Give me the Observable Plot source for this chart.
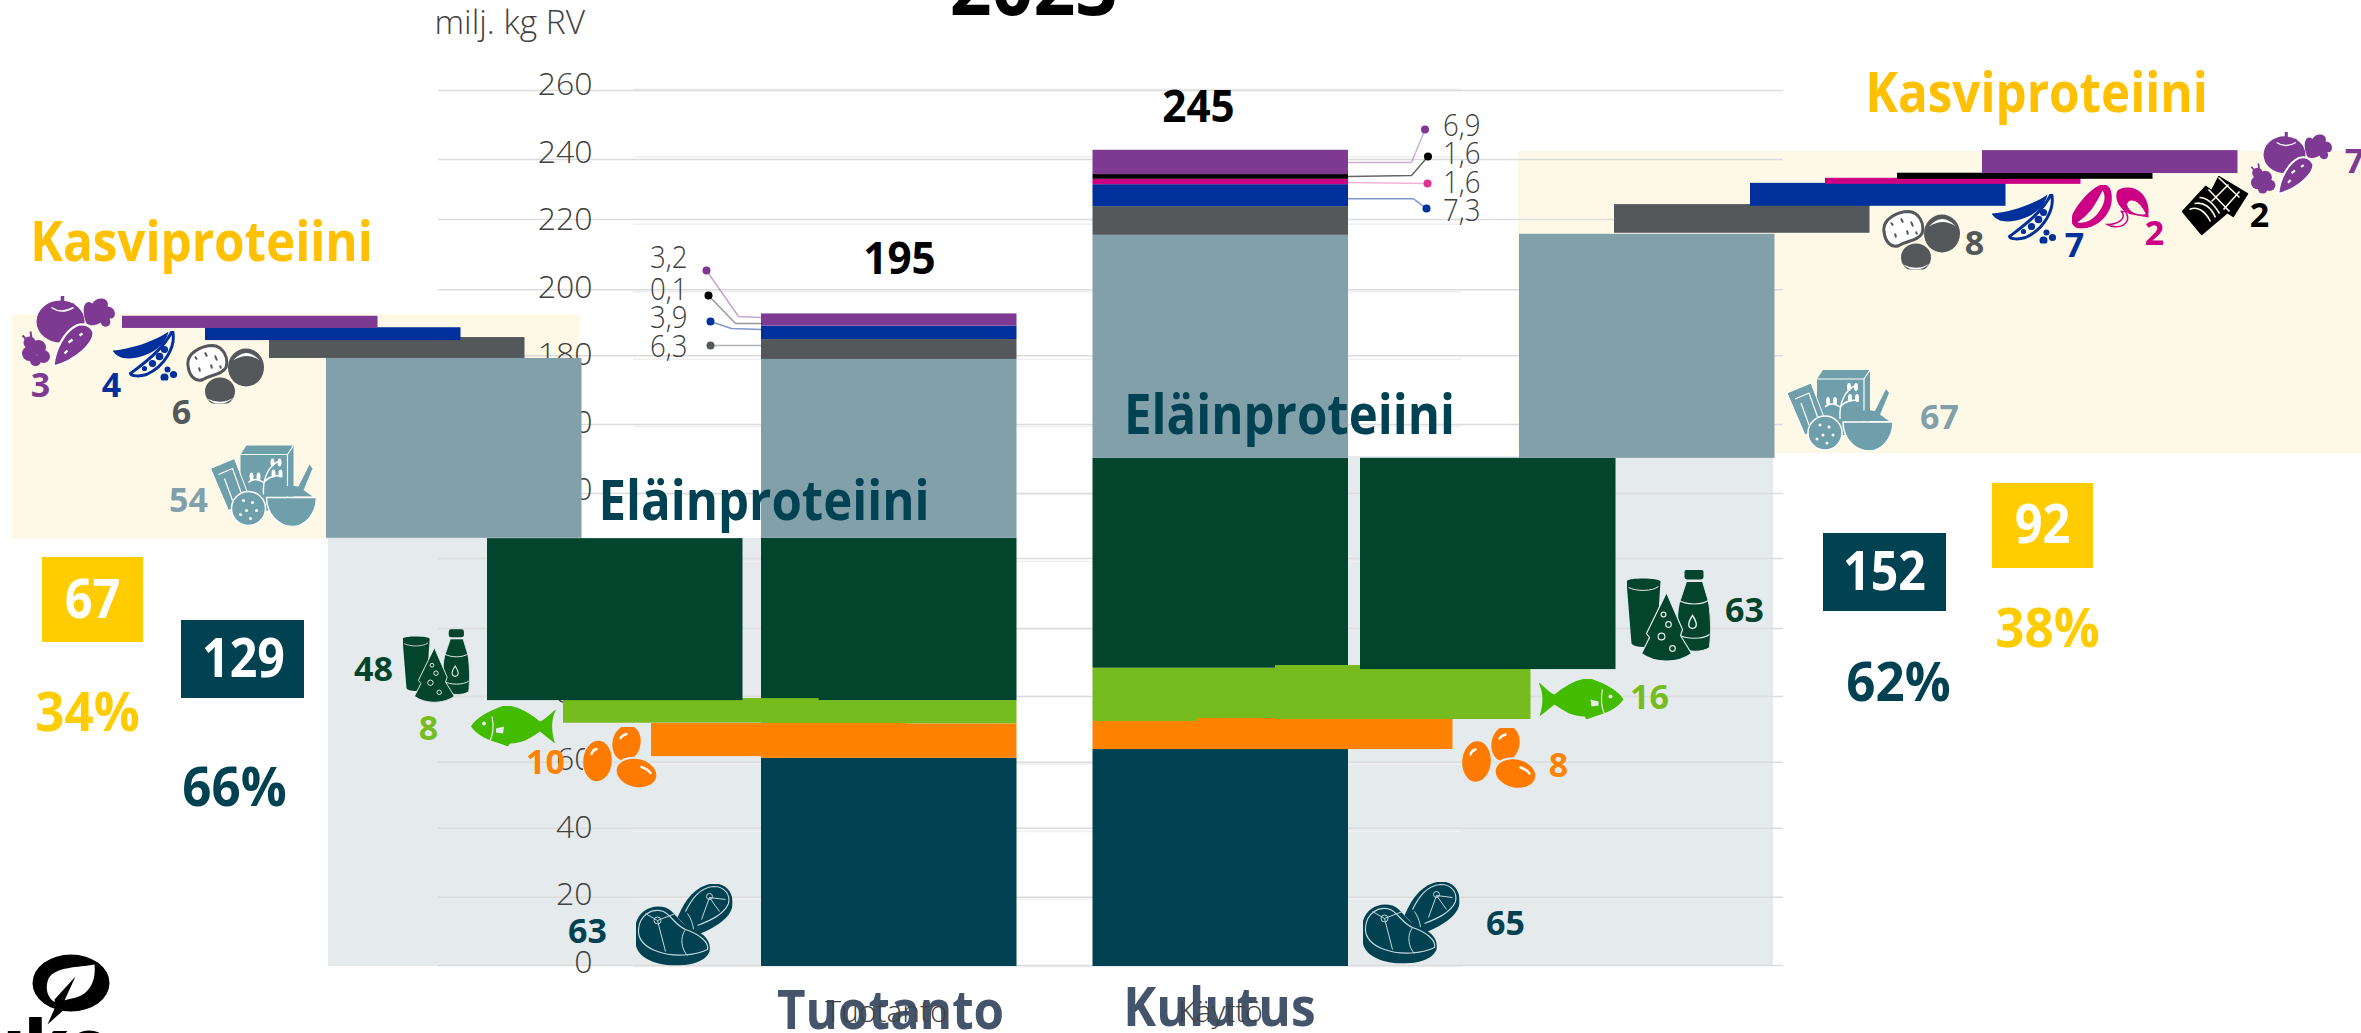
<!DOCTYPE html>
<html lang="fi">
<head>
<meta charset="utf-8">
<title>Proteiinitase 2023</title>
<script src="https://cdn.jsdelivr.net/npm/d3@7"></script>
<script src="https://cdn.jsdelivr.net/npm/@observablehq/plot@0.6"></script>
<style>
html,body{margin:0;padding:0;background:#fff;overflow:hidden}
svg{display:block}
</style>
</head>
<body>
<div id="chart"></div>
<script>
// ---------- DATA (milj. kg RV) ----------
const categories = ["Liha","Kananmuna","Kala","Maito","Viljat","Peruna","Palkokasvit","Pähkinät","Kaakao","Kasvikset"];
const tuotantoValues = [61.7,10.2,6.9,48.1,53.0,5.9,4.0,0,0,3.6];
const kulutusValues  = [64.3,8.3,15.8,62.2,66.1,8.5,6.5,1.6,1.4,7.2];
// pulled-out segments: bottom and height on the axis
const tuotantoOutCats  = ["Kananmuna","Kala","Maito","Viljat","Peruna","Palkokasvit","Kasvikset"];
const tuotantoOutBase  = [62.2,72.1,78.8,126.9,180.2,185.5,189.1];
const tuotantoOutValue = [9.8,7.3,48.0,53.3,6.2,3.8,3.6];
const kulutusOutCats   = ["Kananmuna","Kala","Maito","Viljat","Peruna","Palkokasvit","Pähkinät","Kaakao","Kasvikset"];
const kulutusOutBase   = [64.3,73.2,88.0,150.6,217.3,225.3,231.8,233.3,235.0];
const kulutusOutValue  = [9.2,16.0,62.6,66.4,8.5,6.8,1.8,1.8,6.8];
const axisTicks = [0,20,40,60,80,100,120,140,160,180,200,220,240,260];
const gridReadA = [0.3,20.5,41,60.5,80,100.2,120.9,140.2,160.6,181,200.6,221.4,239.2,259.6];
const totals = ["195","245"];
const tuotantoLabels = ["63","10","8","48","54","6","4","3"];
const kulutusLabels  = ["65","8","16","63","67","8","7","2","2","7"];
const tuotantoCallouts = ["3,2","0,1","3,9","6,3"];
const kulutusCallouts  = ["6,9","1,6","1,6","7,3"];
const sumAnimal = ["129","152"], sumPlant = ["67","92"];
const pctAnimal = ["66%","62%"], pctPlant = ["34%","38%"];

// ---------- LAYOUT & STYLE ----------
const colors = {Liha:"#004152",Kananmuna:"#ff8200",Kala:"#77bc1f",Maito:"#03442c",Viljat:"#82a0aa",Peruna:"#54585a",Palkokasvit:"#00309b","Pähkinät":"#cc0084",Kaakao:"#000000",Kasvikset:"#7e3a93"};
const W = 2361, H = 1033, Y0 = 966, Y260 = 88.7;
const yAt = px => (Y0 - px) * 260 / (Y0 - Y260);   // screen row -> axis value, for annotations
const FONT = "'Open Sans','Noto Sans',sans-serif";
const BAR_W = 255.5;
const colTuotanto = 761, colKulutus = 1092.5;
const tuotantoOutX = [651,563,487,326,269,205,122];
const kulutusOutX  = [1197,1275,1360,1519,1614,1750,1825,1897,1982];

function stacked(values, left) {
  let base = 0;
  return categories.map((c,i)=>{const r={c,x1:left,x2:left+BAR_W,y1:base,y2:base+values[i]};base+=values[i];return r;}).filter(r=>r.y2>r.y1);
}
function pulled(cats,bases,vals,xs){
  return cats.map((c,i)=>({c,x1:xs[i],x2:xs[i]+BAR_W,y1:bases[i],y2:bases[i]+vals[i]}));
}
const bars = [...stacked(tuotantoValues,colTuotanto),...stacked(kulutusValues,colKulutus),
  ...pulled(tuotantoOutCats,tuotantoOutBase,tuotantoOutValue,tuotantoOutX),
  ...pulled(kulutusOutCats,kulutusOutBase,kulutusOutValue,kulutusOutX)];

const panels = [
  {x1:12,x2:580,y1:yAt(539),y2:yAt(314),f:"#fef9e7"},
  {x1:1518,x2:W,y1:yAt(453),y2:yAt(151),f:"#fef9e7"},
  {x1:328,x2:761,y1:0,y2:yAt(538),f:"#e5eaed"},
  {x1:1348,x2:1773,y1:0,y2:yAt(456),f:"#e5eaed"}
];
const boxes = [
  {x1:42,x2:143,y1:yAt(642),y2:yAt(557),f:"#ffcc00"},
  {x1:181,x2:304,y1:yAt(698),y2:yAt(620),f:"#004152"},
  {x1:1992,x2:2093,y1:yAt(568),y2:yAt(483),f:"#ffcc00"},
  {x1:1823,x2:1946,y1:yAt(611),y2:yAt(533),f:"#004152"}
];

const seg = (t,x,r,c)=>({t,x,y:yAt(r),c,s:34});
const valueLabels = [
  seg(tuotantoLabels[0],587,932,colors.Liha),seg(tuotantoLabels[1],545,763,colors.Kananmuna),
  seg(tuotantoLabels[2],428,729,colors.Kala),seg(tuotantoLabels[3],373,670,colors.Maito),
  seg(tuotantoLabels[4],188,501,colors.Viljat),seg(tuotantoLabels[5],181,413,colors.Peruna),
  seg(tuotantoLabels[6],111,386,colors.Palkokasvit),seg(tuotantoLabels[7],40,386,colors.Kasvikset),
  seg(kulutusLabels[0],1505,924,colors.Liha),seg(kulutusLabels[1],1558,766,colors.Kananmuna),
  seg(kulutusLabels[2],1649,698,colors.Kala),seg(kulutusLabels[3],1744,611,colors.Maito),
  seg(kulutusLabels[4],1939,418,colors.Viljat),seg(kulutusLabels[5],1974,244,colors.Peruna),
  seg(kulutusLabels[6],2074,246,colors.Palkokasvit),seg(kulutusLabels[7],2154,234,colors["Pähkinät"]),
  seg(kulutusLabels[8],2259,216,colors.Kaakao),seg(kulutusLabels[9],2354,162,colors.Kasvikset)
];
// k = horizontal squeeze of the glyphs
const bigLabels = [
  {t:"2023",x:1033,y:yAt(-10),c:"#000",s:78,k:.94},
  {t:totals[0],x:899,y:yAt(259),c:"#000",s:44,k:.96},
  {t:totals[1],x:1198,y:yAt(107),c:"#000",s:44,k:.96},
  {t:"Kasviproteiini",x:201,y:yAt(243),c:"#ffc000",s:55,k:.897},
  {t:"Kasviproteiini",x:2036,y:yAt(94),c:"#ffc000",s:55,k:.897},
  {t:"Eläinproteiini",x:763.5,y:yAt(502),c:"#004152",s:55,k:.894},
  {t:"Eläinproteiini",x:1289,y:yAt(416),c:"#004152",s:55,k:.894},
  {t:"Tuotanto",x:890,y:yAt(1011),c:"#44546a",s:54,k:.914},
  {t:"Kulutus",x:1219,y:yAt(1008),c:"#44546a",s:54,k:.92},
  {t:sumPlant[0],x:92,y:yAt(600),c:"#fff",s:54,k:.9},
  {t:sumAnimal[0],x:243,y:yAt(659),c:"#fff",s:54,k:.895},
  {t:sumPlant[1],x:2042,y:yAt(525),c:"#fff",s:54,k:.9},
  {t:sumAnimal[1],x:1884,y:yAt(572),c:"#fff",s:54,k:.895},
  {t:pctPlant[0],x:87,y:yAt(713),c:"#ffcc00",s:54,k:.945},
  {t:pctAnimal[0],x:234,y:yAt(788),c:"#004152",s:54,k:.945},
  {t:pctPlant[1],x:2047,y:yAt(629),c:"#ffcc00",s:54,k:.945},
  {t:pctAnimal[1],x:1898,y:yAt(683),c:"#004152",s:54,k:.945}
];
const calloutText = [
  {t:tuotantoCallouts[0],x:687,y:yAt(258)},{t:tuotantoCallouts[1],x:687,y:yAt(290)},
  {t:tuotantoCallouts[2],x:687,y:yAt(318)},{t:tuotantoCallouts[3],x:687,y:yAt(347)},
  {t:kulutusCallouts[0],x:1480,y:yAt(126)},{t:kulutusCallouts[1],x:1480,y:yAt(154)},
  {t:kulutusCallouts[2],x:1480,y:yAt(183)},{t:kulutusCallouts[3],x:1480,y:yAt(211)}
];
const leaderPts = (id,c,o,pts)=>pts.map(p=>({id,c,o,x:p[0],y:yAt(p[1])}));
const leaders = [
  ...leaderPts("a",colors.Kasvikset,.45,[[706,270],[738,316],[761,317]]),
  ...leaderPts("b","#000",.4,[[708,295],[735,323],[761,323]]),
  ...leaderPts("c",colors.Palkokasvit,.5,[[710,321],[731,328],[761,329]]),
  ...leaderPts("d",colors.Peruna,.45,[[710,345],[761,345]]),
  ...leaderPts("e",colors.Kasvikset,.4,[[1424.5,129],[1411,162],[1348,162]]),
  ...leaderPts("f","#000",.6,[[1427.5,156],[1411,175],[1348,176]]),
  ...leaderPts("g",colors["Pähkinät"],.3,[[1427,183],[1348,182]]),
  ...leaderPts("h",colors.Palkokasvit,.5,[[1426,208],[1413,198.3],[1348,198.3]])
];
const leaderDots = d3.groups(leaders,d=>d.id).map(([,v])=>v[0]);
const dotColors = ["#7e3a93","#000","#00309b","#54585a","#7e3a93","#000","#e0348f","#00309b"];
leaderDots.forEach((d,i)=>d.f=dotColors[i]);

// ---------- ICONS ----------
const svgUri = (w,h,body)=>"data:image/svg+xml,"+encodeURIComponent(`<svg xmlns="http://www.w3.org/2000/svg" viewBox="0 0 ${w} ${h}" width="${w}" height="${h}">${body}</svg>`);
const vegBody = c=>`<g fill="${c}">
<ellipse cx="40" cy="26" rx="24" ry="21"/><path d="M42 0v9M30 9q11 8 24 0" stroke="${c}" stroke-width="3.5" fill="none"/>
<path d="M31 12q10 7 22 0" stroke="#fff" stroke-width="1.5" fill="none"/>
<path d="M33 71C34 54 44 36 56 30C64 27 71 31 73 37C74 47 56 65 33 71Z" stroke="#fff" stroke-width="2.2"/>
<path d="M66 28C60 14 64 2 72 8C76 0 90 2 87 11C96 11 97 24 89 23C93 32 82 34 80 27C76 30 70 31 66 28Z"/>
<circle cx="9" cy="47" r="6"/><circle cx="18" cy="52" r="7.5"/><circle cx="9" cy="58" r="7.5"/><circle cx="23" cy="61" r="6.5"/><circle cx="15" cy="65" r="5.5"/><path d="M2 40l5 5M10 36l1 7" stroke="${c}" stroke-width="2"/>
</g><path d="M48 47l4 -3M59 40l3 -2M44 58l3 -3" stroke="#fff" stroke-width="2.4"/>`;
const podBody = (c,f)=>`<path d="M0 20C18 19 44 10 56 1C53 16 36 27 16 28C8 28 3 25 0 20Z" fill="${c}"/>
<path d="M60 0C64 16 52 36 34 44C28 46 19 46 18 43C30 34 50 20 60 0Z" fill="${f}" stroke="${c}" stroke-width="3"/>
<g fill="${c}"><circle cx="52" cy="19" r="3.6"/><circle cx="47" cy="26" r="3.8"/><circle cx="40" cy="33" r="3.6"/><circle cx="32" cy="38" r="2.6"/><circle cx="52" cy="47" r="4"/><circle cx="61" cy="44" r="3.6"/><circle cx="55" cy="39" r="3"/></g>`;
const potatoBody = c=>`<path d="M3 22C1 10 16 2 28 2C38 3 44 14 41 24C36 32 28 30 18 36C10 39 4 32 3 22Z" fill="#fff" stroke="${c}" stroke-width="3"/>
<path d="M10 13l2 3M20 9l2 4M30 12l2 5M14 24l1 4M26 21l1 4M35 22l1 3" stroke="${c}" stroke-width="2"/>
<ellipse cx="61" cy="24" rx="18" ry="19" fill="${c}"/><path d="M48 17Q61 2 75 17Q62 8 48 17Z" fill="#fff"/>
<ellipse cx="35" cy="48" rx="15" ry="14" fill="${c}"/><path d="M22 55Q35 66 49 54Q36 62 22 55Z" fill="#fff"/>`;
const cerealBody = c=>`<path d="M32 12L38 3H85V58L79 68H32Z" fill="${c}"/><path d="M79 12V68M32 12H79L85 3" stroke="#fff" stroke-width="1.2" fill="none"/>
<path d="M55 52C54 36 60 22 72 18M55 40C60 34 68 32 74 34M55 40C50 36 44 36 40 40" stroke="#fff" stroke-width="1.4" fill="none"/>
<g fill="#fff"><ellipse cx="64" cy="20" rx="2" ry="4"/><ellipse cx="71" cy="20" rx="2" ry="4"/><ellipse cx="65" cy="31" rx="2" ry="4"/><ellipse cx="72" cy="31" rx="2" ry="4"/><ellipse cx="43" cy="34" rx="2" ry="4"/><ellipse cx="50" cy="34" rx="2" ry="4"/></g>
<path d="M2 26L26 16L42 58L20 68Z" fill="${c}" stroke="#fff" stroke-width="1"/><path d="M10 32L24 26L34 54M16 36L24 58" stroke="#fff" stroke-width="1.2" fill="none"/>
<circle cx="40" cy="66" r="17" fill="${c}" stroke="#fff" stroke-width="1.5"/><g fill="#fff"><circle cx="35" cy="58" r="1.5"/><circle cx="44" cy="60" r="1.5"/><circle cx="38" cy="68" r="1.5"/><circle cx="48" cy="68" r="1.5"/><circle cx="32" cy="72" r="1.5"/><circle cx="42" cy="76" r="1.5"/></g>
<path d="M60 54C62 44 80 42 90 44L104 54Z" fill="${c}"/><path d="M88 48L101 22L104 26L94 50Z" fill="${c}"/>
<path d="M58 55H108C108 72 96 84 84 84C70 84 58 72 58 55Z" fill="${c}" stroke="#fff" stroke-width="1.5"/>`;
const dairyBody = (c,bg)=>`<path d="M0 12C0 8 33 8 34 12L30 74C20 79 8 78 5 74Z" fill="${c}"/><path d="M2 18C10 22 26 22 32 17" stroke="${bg}" stroke-width="1" fill="none"/>
<rect x="58" y="0" width="19" height="10" rx="3" fill="${c}"/><path d="M60 12H76L82 32C85 50 84 70 83 78C76 83 62 83 55 78C50 60 50 40 54 30Z" fill="${c}" stroke="${bg}" stroke-width="1"/>
<path d="M51 30C60 36 76 36 83 30M51 65C60 70 76 70 83 65" stroke="${bg}" stroke-width="1.2" fill="none"/><path d="M66 46C70 52 72 58 66 59C60 58 62 52 66 46Z" fill="none" stroke="${bg}" stroke-width="1.4"/>
<path d="M40 23L56 60L54 66L65 84C52 94 28 94 15 84L23 68L20 64Z" fill="${c}" stroke="${bg}" stroke-width="1.2"/>
<g fill="none" stroke="${bg}" stroke-width="1.2"><circle cx="37" cy="45" r="2.4"/><circle cx="42" cy="55" r="2.8"/><circle cx="35" cy="67" r="3.4"/><circle cx="46" cy="79" r="2.8"/></g>`;
const fishBody = c=>`<path d="M0 4C4 6 10 14 16 16C28 6 42 -1 52 0C66 5 80 12 85 21C78 31 66 35 56 38L48 41L46 38C34 38 26 33 16 26L1 38C4 28 6 16 0 4Z" fill="${c}"/>
<circle cx="72" cy="18" r="2" fill="#e5eaed"/><path d="M64 11C62 20 63 30 66 35" stroke="#e5eaed" stroke-width="1.2" fill="none"/><path d="M52 21L60 23L60 27L53 28Z" fill="#e5eaed"/>`;
const eggBody = c=>`<ellipse cx="44" cy="16" rx="14" ry="18" transform="rotate(12 44 16)" fill="${c}"/>
<ellipse cx="15" cy="34" rx="15" ry="21" transform="rotate(4 15 34)" fill="${c}" stroke="#e5eaed" stroke-width="1.5"/>
<ellipse cx="54" cy="46" rx="21" ry="15" transform="rotate(12 54 46)" fill="${c}" stroke="#e5eaed" stroke-width="2"/>
<g stroke="#fff" stroke-width="2.4" stroke-linecap="round" fill="none"><path d="M9 27Q10 23 14 22"/><path d="M38 11Q40 8 44 7"/><path d="M59 40Q65 42 68 46"/></g>`;
const meatBody = (c,l)=>`<path d="M42 34C48 20 58 2 78 0C92 0 98 10 97 22C95 36 76 46 60 52Z" fill="${c}"/>
<path d="M50 28C56 16 64 4 78 3C90 3 95 12 93 20C88 32 72 38 62 42" stroke="${l}" stroke-width="1.2" fill="none"/>
<path d="M74 14L66 36M74 14L84 28M74 14L90 16M52 30C56 36 58 42 58 48" stroke="${l}" stroke-width="1" fill="none"/><circle cx="74" cy="13" r="3" fill="none" stroke="${l}"/>
<path d="M0 42C2 28 16 20 30 24C40 28 42 38 54 44C68 50 76 56 74 68C70 78 56 82 40 82C20 82 0 74 0 58Z" fill="${c}"/>
<path d="M3 46C4 32 16 24 28 28C36 32 40 42 50 46C62 50 74 58 72 66C60 72 38 74 22 68C10 64 2 56 3 46Z" stroke="${l}" stroke-width="1.2" fill="none"/>
<path d="M22 37L10 30M22 37L30 68M22 37L40 30M50 46C44 54 46 66 52 72" stroke="${l}" stroke-width="1" fill="none"/><circle cx="22" cy="37" r="3.5" fill="none" stroke="${l}"/>`;
const beanBody = (c,f)=>`<path d="M30 0C40 -1 41 10 40 18C38 32 24 44 10 44C2 44 -1 38 0 33C2 24 18 4 30 0Z" fill="${c}"/>
<path d="M31 6C35 12 33 20 27 28C21 36 14 39 6 38C14 32 18 28 22 22C26 16 28 12 31 6Z" fill="${f}"/>
<path d="M46 6C54 0 74 2 77 24L77 33L60 30C48 26 42 14 46 6Z" fill="${c}"/><path d="M55 20C57 12 68 14 75 30C66 32 57 28 55 20Z" fill="${f}" stroke="${c}"/>
<path d="M50 27C56 34 46 40 36 40C46 46 62 40 54 27Z" fill="none" stroke="${c}" stroke-width="1.5"/>`;
const chocoBody = c=>`<path d="M0 36L24 10L30 14L37 0L67 18L52 42L46 38L20 60Z" fill="${c}"/>
<path d="M37 2L58 22M47 9L30 26M58 16L42 34M27 14L48 36" stroke="#fef9e7" stroke-width="1.6" fill="none"/>
<path d="M8 34C16 30 24 36 29 46M13 28C22 26 30 32 34 42M18 22C26 22 32 28 38 38" stroke="#fef9e7" stroke-width="1.6" fill="none"/>`;
const logoBody = `<ellipse cx="40.5" cy="30.5" rx="38.5" ry="28.5" fill="#000"/>
<path d="M64 12C48 15 25 14 18 26C14 36 17 46 25 50L41 46C56 44 66 32 64 12Z" fill="#fff"/>
<path d="M45 24L24 47L25 54L17 72L36 55L34 48Z" fill="#000"/>`;

const [cV,cG,cB,cC,cD,cF,cE,cM,cP,cK] = ["#7e3a93","#54585a","#00309b","#6f9fab","#03442c","#43bc00","#ff7a00","#004152","#cc0084","#000"];
const icons = [
  {w:96,h:71,x:68,y:330.5,b:vegBody(cV)},
  {w:68,h:50,x:146,y:355,b:podBody(cB,"#fef9e7")},
  {w:80,h:60,x:224.5,y:373,b:potatoBody(cG)},
  {w:108,h:84,x:262,y:484,b:cerealBody(cC)},
  {w:84,h:92,x:435.5,y:665.5,sw:67,sh:75,b:dairyBody(cD,"#e5eaed")},
  {w:85,h:41,x:513,y:725.5,flip:true,b:fishBody(cF)},
  {w:75,h:62,x:619.5,y:757.5,b:eggBody(cE)},
  {w:97,h:82,x:683.5,y:924,b:meatBody(cM,"#c8d6da")},
  {w:97,h:82,x:1410.5,y:922,b:meatBody(cM,"#c8d6da")},
  {w:75,h:62,x:1498.5,y:758,b:eggBody(cE)},
  {w:85,h:41,x:1580.5,y:698.5,b:fishBody(cF)},
  {w:84,h:92,x:1668,y:615,b:dairyBody(cD,"#e5eaed")},
  {w:108,h:84,x:1838.5,y:408.5,b:cerealBody(cC)},
  {w:80,h:60,x:1920.5,y:239,b:potatoBody(cG)},
  {w:68,h:50,x:2025,y:218,b:podBody(cB,"#fef9e7")},
  {w:78,h:44,x:2110,y:206,b:beanBody(cP,"#fef9e7")},
  {w:67,h:60,x:2214.5,y:205,b:chocoBody(cK)},
  {w:96,h:71,x:2291,y:162.5,sw:84,sh:62,b:vegBody(cV)},
  {w:85,h:75,x:72.5,y:989.5,b:logoBody}
].map(d=>{
  const inner = d.flip ? `<g transform="translate(${d.w},0) scale(-1,1)">${d.b}</g>` : d.b;
  return {x:d.x,y:yAt(d.y),src:svgUri(d.w,d.h,inner),width:d.sw||d.w,height:d.sh||d.h};
});

// ---------- PLOT ----------
const txt = (data,opts)=>Plot.text(data,{text:"t",x:"x",y:"y",fontFamily:FONT,...opts});
const chart = Plot.plot({
  width:W, height:H, margin:0,
  style:{background:"#fff",fontFamily:FONT},
  x:{domain:[0,W],range:[0,W],axis:null},
  y:{domain:[0,260],range:[Y0,Y260],axis:null},
  marks:[
    Plot.rect(panels,{x1:"x1",x2:"x2",y1:"y1",y2:"y2",fill:"f"}),
    Plot.ruleY(axisTicks,{x1:633,x2:1461,stroke:"#efefef",strokeWidth:1.5}),
    Plot.ruleY(gridReadA,{x1:438,x2:1783,stroke:"#dcdcdc",strokeWidth:1.5}),
    Plot.text(axisTicks,{x:()=>592,y:d=>d,dy:-4,text:d=>String(d),textAnchor:"end",fontFamily:FONT,fontWeight:300,fontSize:32,fill:"#404040"}),
    txt([{t:"milj. kg RV",x:434,y:yAt(23)}],{textAnchor:"start",fontWeight:300,fontSize:33.5,fill:"#404040"}),
    Plot.rect(bars,{x1:"x1",x2:"x2",y1:"y1",y2:"y2",fill:d=>colors[d.c]}),
    Plot.rect(boxes,{x1:"x1",x2:"x2",y1:"y1",y2:"y2",fill:"f"}),
    Plot.line(leaders,{x:"x",y:"y",z:"id",stroke:"c",strokeOpacity:"o",strokeWidth:1.5,curve:"linear"}),
    Plot.dot(leaderDots,{x:"x",y:"y",r:4,fill:"f",stroke:"none"}),
    txt(calloutText,{textAnchor:"end",fontWeight:300,fontSize:31,fill:"#404040"}),
    Plot.image(icons,{x:"x",y:"y",src:"src",width:"width",height:"height"}),
    txt(valueLabels,{fill:"c",fontSize:"s",fontWeight:700}),
    txt(bigLabels,{fill:"c",fontSize:"s",fontWeight:700}),
    txt([{t:"Tuotanto",x:886,y:yAt(1012)},{t:"Käyttö",x:1220,y:yAt(1012)}],{fontWeight:300,fontSize:30,fill:"#404040"}),
    txt([{t:"uke",x:-20,y:yAt(1045)}],{textAnchor:"start",fontWeight:800,fontSize:66,fill:"#000"})
  ]
});
document.getElementById("chart").append(chart);

// narrow the glyphs to the reference's condensed letterforms (text stays real text)
const allText = [...chart.querySelectorAll("text")];
const squeezeFrom = (start,count,k)=>{
  for (let i=0;i<count;i++){
    const n = allText[start+i];
    n.setAttribute("textLength", n.getComputedTextLength()*k(i));
    n.setAttribute("lengthAdjust","spacingAndGlyphs");
  }
};
const calloutStart = axisTicks.length+1;
const bigStart = calloutStart+calloutText.length+valueLabels.length;
squeezeFrom(calloutStart,calloutText.length,()=>.89);
squeezeFrom(bigStart,bigLabels.length,i=>bigLabels[i].k);
</script>
</body>
</html>
